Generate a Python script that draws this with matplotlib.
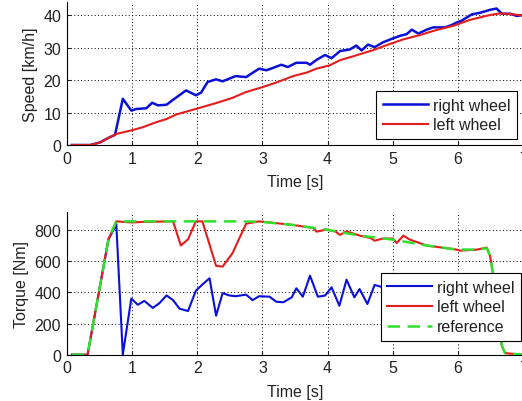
import matplotlib
matplotlib.use('Agg')
import matplotlib.pyplot as plt

# speed data (top)
t_speed_right = [0.08, 0.36, 0.51, 0.66, 0.74, 0.86, 0.99, 1.07, 1.22, 1.31, 1.40, 1.53, 1.65, 1.83, 1.98,
                 2.06, 2.16, 2.29, 2.39, 2.59, 2.75, 2.95, 3.06, 3.16, 3.29, 3.39, 3.52, 3.68, 3.73, 3.83,
                 3.96, 4.06, 4.19, 4.34, 4.44, 4.52, 4.62, 4.72, 4.85, 5.00, 5.11, 5.21, 5.29, 5.39, 5.52,
                 5.62, 5.80, 5.90, 5.98, 6.05, 6.21, 6.34, 6.49, 6.59, 6.67, 6.80, 6.90, 7.0]
speed_right = [0, 0, 0.8, 2.4, 3.1, 14.2, 10.6, 11.1, 11.3, 13.0, 12.2, 12.4, 14.2, 16.8, 15.3,
               16.1, 19.4, 20.2, 19.6, 21.2, 20.9, 23.5, 23.0, 23.7, 24.7, 24.0, 25.3, 25.3, 24.7, 26.2,
               27.7, 26.7, 28.9, 29.4, 30.6, 29.1, 30.9, 30.1, 31.6, 32.8, 33.6, 34.1, 35.5, 34.3, 35.5,
               36.2, 36.2, 36.9, 37.7, 38.2, 40.2, 40.7, 41.6, 42.0, 40.4, 40.4, 39.7, 40.0]
t_speed_left = [0.08, 0.36, 0.51, 0.66, 0.76, 1.01, 1.17, 1.37, 1.53, 1.68, 1.98, 2.29, 2.54, 2.75, 3.0,
                3.21, 3.47, 3.68, 3.83, 4.03, 4.19, 4.44, 4.70, 4.90, 5.16, 5.41, 5.67, 5.93, 6.18, 6.49,
                6.64, 6.85, 7.0]
speed_left = [0, 0, 0.8, 2.4, 3.4, 4.6, 5.5, 7.0, 8.0, 9.4, 11.1, 12.9, 14.5, 16.3, 17.8,
              19.2, 21.2, 22.3, 23.5, 24.5, 26.1, 27.6, 29.2, 30.7, 32.5, 33.8, 35.4, 36.7, 38.5, 40.0,
              40.5, 40.2, 39.8]

# torque data (bottom)
t_torque_right = [0.08, 0.32, 0.64, 0.74, 0.76, 0.86, 0.99, 1.09, 1.19, 1.32, 1.42, 1.53, 1.63, 1.73, 1.86,
                  1.98, 2.08, 2.19, 2.29, 2.39, 2.49, 2.59, 2.75, 2.85, 2.95, 3.11, 3.21, 3.32, 3.45, 3.52,
                  3.62, 3.73, 3.85, 3.96, 4.06, 4.18, 4.29, 4.41, 4.49, 4.61, 4.72, 4.80, 5.0, 5.3, 5.6,
                  6.0, 6.3, 6.5]
torque_right = [0, 0, 740, 817, 840, 0, 360, 320, 345, 300, 330, 380, 350, 295, 280,
                410, 450, 490, 250, 395, 380, 375, 385, 350, 375, 372, 340, 336, 368, 426,
                372, 507, 372, 379, 432, 314, 481, 368, 421, 325, 447, 438, 410, 430, 400,
                420, 400, 380]
t_torque_left = [0.08, 0.32, 0.64, 0.76, 1.0, 1.2, 1.63, 1.75, 1.86, 1.98, 2.08, 2.29, 2.39, 2.54, 2.75,
                 2.95, 3.47, 3.78, 3.83, 3.98, 4.12, 4.19, 4.29, 4.49, 4.66, 4.72, 4.85, 5.0, 5.06, 5.16,
                 5.26, 5.52, 5.98, 6.03, 6.29, 6.44, 6.49, 6.54, 6.62, 6.67, 6.72, 7.0]
torque_left = [0, 0, 740, 855, 848, 852, 855, 700, 740, 855, 855, 570, 565, 650, 840,
               855, 832, 812, 789, 802, 790, 768, 791, 764, 748, 731, 745, 745, 716, 764,
               738, 700, 674, 667, 674, 687, 635, 507, 314, 58, 10, 0]
t_reference = [0.08, 0.32, 0.64, 0.76, 1.5, 2.5, 2.96, 3.47, 3.98, 4.49, 5.0, 5.52, 5.98, 6.29, 6.44,
               6.49, 6.54, 6.62, 6.67, 6.72, 7.0]
torque_reference = [0, 0, 740, 855, 855, 855, 853, 832, 802, 764, 738, 700, 674, 674, 682,
                    635, 507, 314, 58, 10, 0]

plt.rcParams['font.family'] = ['Liberation Sans', 'DejaVu Sans']
plt.rcParams['font.size'] = 11.5

blue = '#0a10d8'
red = '#e41c1c'
green = '#30e030'

fig = plt.figure(figsize=(5.22, 4.02), dpi=100)
ax1 = fig.add_axes([0.1278, 0.6368, 0.8747, 0.3557])
ax2 = fig.add_axes([0.1278, 0.1152, 0.8747, 0.3557])


def style(ax):
    ax.set_xlim(0, 7)
    ax.set_xticks(range(8))
    ax.spines['top'].set_visible(False)
    ax.spines['right'].set_visible(False)
    ax.grid(True, color='k', linestyle=(0, (1, 2.5)), linewidth=0.7)
    ax.tick_params(direction='in', length=3, pad=4, colors='#222222')
    ax.set_xlabel('Time [s]', color='#222222', labelpad=6)


def add_legend(ax, anchor):
    leg = ax.legend(loc='lower right', bbox_to_anchor=anchor, borderaxespad=0,
                    fancybox=False, framealpha=1, edgecolor='k', handlelength=2.8,
                    labelspacing=0.3, borderpad=0.42, handletextpad=0.3)
    leg.get_frame().set_linewidth(0.8)
    for txt in leg.get_texts():
        txt.set_color('#222222')


ax1.plot(t_speed_right, speed_right, color=blue, lw=1.8, label='right wheel')
ax1.plot(t_speed_left, speed_left, color=red, lw=1.5, label='left wheel')
ax1.set_ylim(0, 44)
ax1.set_yticks([0, 10, 20, 30, 40])
ax1.set_ylabel('Speed [km/h]', color='#222222', labelpad=4)
style(ax1)
add_legend(ax1, (0.986, 0.042))

ax2.plot(t_torque_right, torque_right, color=blue, lw=1.5, label='right wheel')
ax2.plot(t_torque_left, torque_left, color=red, lw=1.5, label='left wheel')
ax2.plot(t_reference, torque_reference, color=green, lw=1.8, dashes=(5, 3), label='reference')
ax2.set_ylim(0, 917)
ax2.set_yticks([0, 200, 400, 600, 800])
ax2.set_ylabel('Torque [Nm]', color='#222222', labelpad=4)
style(ax2)
add_legend(ax2, (0.995, 0.096))

fig.savefig('out.png', dpi=100)
